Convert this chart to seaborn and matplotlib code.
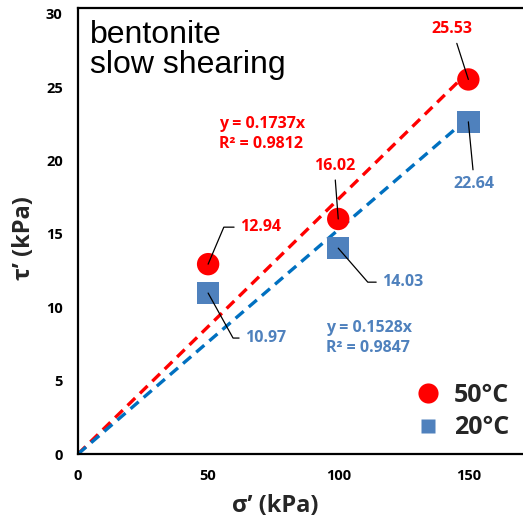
import numpy as np
import pandas as pd
import matplotlib
matplotlib.use("Agg")
import matplotlib.pyplot as plt
import seaborn as sns
from matplotlib.lines import Line2D

# ---- data ----
sigma = [50, 100, 150]
tau_50 = [12.94, 16.02, 25.53]
tau_20 = [10.97, 14.03, 22.64]
series_names = ["50°C", "20°C"]
x_ticks = [0, 50, 100, 150]
y_ticks = [0, 5, 10, 15, 20, 25, 30]

RED = "#FF0000"
BLUE_M = "#4F81BD"
BLUE_L = "#0070C0"

sns.set_theme(style="white")
plt.rcParams["font.family"] = ["Open Sans", "DejaVu Sans"]

df = pd.DataFrame({
    "sigma": sigma * 2,
    "tau": tau_50 + tau_20,
    "T": [series_names[0]] * 3 + [series_names[1]] * 3,
})

# least-squares fit through origin (Excel trendline, intercept = 0)
def fit0(x, y):
    x = np.asarray(x, float); y = np.asarray(y, float)
    return (x * y).sum() / (x * x).sum()

k50 = fit0(sigma, tau_50)
k20 = fit0(sigma, tau_20)
eq50 = "y = 0.1737x\nR² = 0.9812"
eq20 = "y = 0.1528x\nR² = 0.9847"

fig = plt.figure(figsize=(5.23, 5.29), dpi=100)
ax = fig.add_axes([78 / 523, 1 - 454 / 529, (523 - 78) / 523, (454 - 8) / 529])

xfit = np.array([0, sigma[-1]])
fit_df = pd.DataFrame({
    "sigma": np.concatenate([xfit, xfit]),
    "tau": np.concatenate([k50 * xfit, k20 * xfit]),
    "T": [series_names[0]] * 2 + [series_names[1]] * 2,
})
sns.lineplot(data=fit_df, x="sigma", y="tau", hue="T", hue_order=series_names,
             palette={series_names[0]: RED, series_names[1]: BLUE_L},
             lw=2.4, ax=ax, legend=False, zorder=2)
for ln in ax.get_lines():
    ln.set_dashes((3.2, 2.0))

sns.scatterplot(data=df, x="sigma", y="tau", hue="T", style="T",
                hue_order=series_names, style_order=series_names,
                palette={series_names[0]: RED, series_names[1]: BLUE_M},
                markers={series_names[0]: "o", series_names[1]: "s"},
                s=260, edgecolor="none", ax=ax, zorder=3, legend=False)

ax.set_xlim(0, 171)
ax.set_ylim(0, 30.4)
ax.set_xticks(x_ticks)
ax.set_yticks(y_ticks)
ax.tick_params(axis="both", length=0, labelsize=10.5, colors="black")
ax.tick_params(axis="y", pad=11)
ax.tick_params(axis="x", pad=11)
for lab in ax.get_xticklabels() + ax.get_yticklabels():
    lab.set_fontweight("bold")
for sp in ax.spines.values():
    sp.set_visible(True)
    sp.set_color("black")
    sp.set_linewidth(1.6)
ax.spines["right"].set_visible(False)

ax.set_xlabel("σ’ (kPa)", fontsize=17, fontweight="bold")
ax.set_ylabel("τ’ (kPa)", fontsize=17, fontweight="bold")
ax.xaxis.set_label_coords((275 - 78) / 445, (454 - 494) / 446)
ax.yaxis.set_label_coords((36 - 78) / 445, (454 - 238) / 446)

# title text
ax.text(12 / 445, 1 - 12 / 446, "bentonite\nslow shearing", transform=ax.transAxes,
        fontsize=23, family="Liberation Sans", ha="left", va="top", linespacing=1.0,
        color="black")

# equations
ax.text(141 / 445, 1 - 108 / 446, eq50, transform=ax.transAxes, color=RED,
        fontsize=11.5, fontweight="bold", ha="left", va="top", linespacing=1.35)
ax.text(248 / 445, 1 - 312 / 446, eq20, transform=ax.transAxes, color=BLUE_M,
        fontsize=11.5, fontweight="bold", ha="left", va="top", linespacing=1.35)

# data labels with leader lines
lab_kw = dict(textcoords="offset pixels", fontsize=11.5, fontweight="bold")
arrow = dict(arrowstyle="-", color="black", lw=0.9, shrinkA=2, shrinkB=0)

def label(x, y, txt, off, color, ha="center", conn=None):
    ap = dict(arrow)
    if conn:
        ap["connectionstyle"] = conn
    ax.annotate(txt, xy=(x, y), xytext=off, color=color, ha=ha, va="center",
                arrowprops=ap, **lab_kw)

label(sigma[2], tau_50[2], f"{tau_50[2]:.2f}", (-16, 50), RED)
label(sigma[1], tau_50[1], f"{tau_50[1]:.2f}", (-4, 53), RED)
label(sigma[0], tau_50[0], f"{tau_50[0]:.2f}", (32, 37), RED, ha="left",
      conn="angle,angleA=0,angleB=67,rad=0")
label(sigma[2], tau_20[2], f"{tau_20[2]:.2f}", (6, -62), BLUE_M)
label(sigma[1], tau_20[1], f"{tau_20[1]:.2f}", (44, -34), BLUE_M, ha="left",
      conn="angle,angleA=0,angleB=-49,rad=0")
label(sigma[0], tau_20[0], f"{tau_20[0]:.2f}", (37, -45), BLUE_M, ha="left",
      conn="angle,angleA=0,angleB=-61,rad=0")

# legend
handles = [
    Line2D([], [], marker="o", ls="none", color=RED, markersize=14.5, mec="none"),
    Line2D([], [], marker="s", ls="none", color=BLUE_M, markersize=10, mec="none"),
]
leg = ax.legend(handles, series_names, loc="lower right", frameon=False,
                prop={"size": 18, "weight": "bold"}, handletextpad=0.45,
                labelspacing=0.3, borderaxespad=0.15, handlelength=1.2)

fig.savefig("out.png", dpi=100)
